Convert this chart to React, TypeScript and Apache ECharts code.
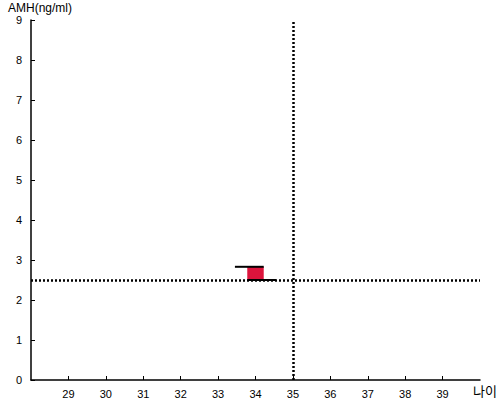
import React, { useEffect, useRef } from "react";
import * as echarts from "echarts";

const xTicks = [28, 40];
const yRange = [0, 9];
const markerData = [[34, 2.5, 2.83]];
const refAge = 35;
const refAmh = 2.5;

export default function App() {
  const ref = useRef<HTMLDivElement>(null);
  useEffect(() => {
    const chart = echarts.init(ref.current!, null, { renderer: "svg" });
    chart.setOption({
      animation: false,
      grid: { left: 31, right: 20, top: 20, bottom: 20 },
      xAxis: {
        type: "value",
        min: xTicks[0],
        max: xTicks[1],
        interval: 1,
        name: "나이",
        nameLocation: "end",
        nameGap: -7,
        nameTextStyle: { color: "#000", fontSize: 13, verticalAlign: "top", padding: [3, 0, 0, 0], fontFamily: "Noto Sans CJK KR", lineHeight: 15 },
        axisLine: { lineStyle: { color: "#000", width: 1.5 } },
        axisTick: { inside: true, length: 4, lineStyle: { color: "#000" } },
        axisLabel: {
          color: "#000",
          fontSize: 11,
          fontFamily: "Arial",
          margin: 8,
          showMinLabel: false,
          showMaxLabel: false,
        },
        splitLine: { show: false },
      },
      yAxis: {
        type: "value",
        min: yRange[0],
        max: yRange[1],
        interval: 1,
        name: "AMH(ng/ml)",
        nameLocation: "end",
        nameGap: 6,
        nameTextStyle: { color: "#000", fontSize: 12, fontFamily: "Arial", align: "center", padding: [0, 0, 0, 18] },
        axisLine: { show: true, lineStyle: { color: "#000", width: 1.5 } },
        axisTick: { show: true, inside: true, length: 4, lineStyle: { color: "#000" } },
        axisLabel: { color: "#000", fontSize: 11, fontFamily: "Arial", margin: 9 },
        splitLine: { show: false },
      },
      series: [
        {
          type: "custom",
          data: markerData,
          renderItem: (params: any, api: any) => {
            const x = api.value(0);
            const lo = api.value(1);
            const hi = api.value(2);
            const pLo = api.coord([x, lo]);
            const pHi = api.coord([x, hi]);
            const unit = api.size([1, 0])[0];
            const half = unit * 0.22;
            const ext = unit * 0.55;
            return {
              type: "group",
              children: [
                {
                  type: "rect",
                  shape: { x: pLo[0] - half, y: pHi[1], width: half * 2, height: pLo[1] - pHi[1] },
                  style: { fill: "#dc143c" },
                },
                {
                  type: "line",
                  shape: { x1: pHi[0] - ext, y1: pHi[1], x2: pHi[0] + half, y2: pHi[1] },
                  style: { stroke: "#000", lineWidth: 2 },
                },
                {
                  type: "line",
                  shape: { x1: pLo[0] - half, y1: pLo[1], x2: pLo[0] + ext, y2: pLo[1] },
                  style: { stroke: "#000", lineWidth: 2 },
                },
              ],
            };
          },
          markLine: {
            silent: true,
            symbol: "none",
            label: { show: false },
            lineStyle: { color: "#000", type: [2, 2], width: 2.5 },
            data: [{ xAxis: refAge }, { yAxis: refAmh }],
          },
        },
      ],
    });
    return () => chart.dispose();
  }, []);
  return <div ref={ref} style={{ position: "absolute", left: 0, top: 0, width: 500, height: 400 }} />;
}
